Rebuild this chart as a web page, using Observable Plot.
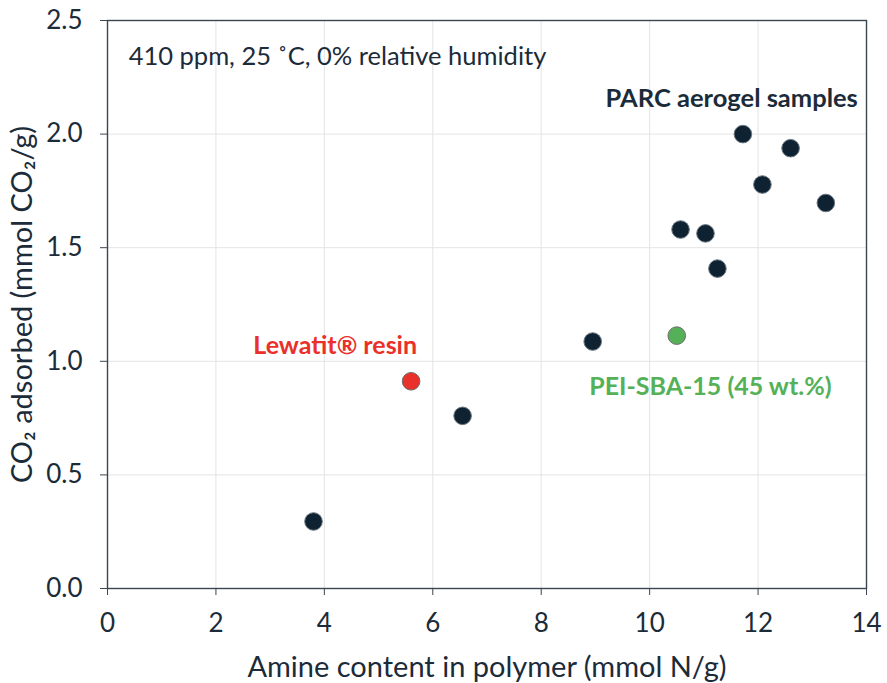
<!DOCTYPE html>
<html>
<head>
<meta charset="utf-8">
<script src="https://cdn.jsdelivr.net/npm/d3@7"></script>
<script src="https://cdn.jsdelivr.net/npm/@observablehq/plot@0.6"></script>
<style>
  html, body { margin: 0; padding: 0; background: #fff; }
  #chart svg { display: block; }
</style>
</head>
<body>
<div id="chart"></div>
<script>
// PARC aerogel samples
const aerogelAmine = [3.8, 6.55, 8.95, 10.57, 11.03, 11.25, 11.72, 12.08, 12.6, 13.25];
const aerogelCO2   = [0.295, 0.76, 1.087, 1.58, 1.563, 1.408, 2.0, 1.778, 1.938, 1.697];
// Reference sorbents
const lewatitAmine = [5.6];
const lewatitCO2   = [0.912];
const peiAmine = [10.5];
const peiCO2   = [1.113];

const xTicks = [0, 2, 4, 6, 8, 10, 12, 14];
const yTicks = [0, 0.5, 1.0, 1.5, 2.0, 2.5];

const toRows = (xs, ys) => xs.map((x, i) => ({x, y: ys[i]}));
const aerogel = toRows(aerogelAmine, aerogelCO2);
const lewatit = toRows(lewatitAmine, lewatitCO2);
const pei = toRows(peiAmine, peiCO2);

const dark = "#0e2232";
const textColor = "#1c2b39";
const red = "#e9302a";
const green = "#55b157";
const font = "Lato, 'Open Sans', sans-serif";

const noteLabel = [{x: 0.39, y: 2.34, text: "410 ppm, 25 ˚C, 0% relative humidity"}];
const parcLabel = [{x: 13.84, y: 2.155, text: "PARC aerogel samples"}];
const lewatitLabel = [{x: 4.2, y: 1.066, text: "Lewatit® resin"}];
const peiLabel = [{x: 11.12, y: 0.885, text: "PEI-SBA-15 (45 wt.%)"}];

const chart = Plot.plot({
  width: 887,
  height: 683,
  marginLeft: 107,
  marginRight: 21,
  marginTop: 20,
  marginBottom: 95,
  style: {fontFamily: font, color: textColor, background: "#fff"},
  x: {domain: [0, 14]},
  y: {domain: [0, 2.5]},
  marks: [
    Plot.ruleX(xTicks, {stroke: "#e4e4e4", strokeWidth: 1}),
    Plot.ruleY(yTicks, {stroke: "#e4e4e4", strokeWidth: 1}),
    Plot.frame({stroke: "#3a4651", strokeWidth: 1.4}),
    Plot.axisX({ticks: xTicks, tickSize: 7, tickPadding: 18, fontSize: 26, stroke: "#3a4651",
      tickFormat: d3.format("d"), label: "Amine content in polymer (mmol N/g)", labelAnchor: "center",
      labelArrow: false, labelOffset: 88, color: textColor}),
    Plot.axisY({ticks: yTicks, tickSize: 7, tickPadding: 18, fontSize: 26, stroke: "#3a4651",
      tickFormat: d3.format(".1f"), label: "CO₂ adsorbed (mmol CO₂/g)", labelAnchor: "center",
      labelArrow: false, labelOffset: 96, color: textColor}),
    Plot.dot(aerogel, {x: "x", y: "y", r: 8.8, fill: dark, stroke: "#6b7780", strokeWidth: 1}),
    Plot.dot(lewatit, {x: "x", y: "y", r: 8.8, fill: red, stroke: "#6b6b6b", strokeWidth: 1}),
    Plot.dot(pei, {x: "x", y: "y", r: 8.8, fill: green, stroke: "#6b6b6b", strokeWidth: 1}),
    Plot.text(noteLabel, {x: "x", y: "y", text: "text", fill: textColor, textAnchor: "start", fontSize: 25.5}),
    Plot.text(parcLabel, {x: "x", y: "y", text: "text", fill: textColor, fontWeight: "bold", textAnchor: "end", fontSize: 25.5}),
    Plot.text(lewatitLabel, {x: "x", y: "y", text: "text", fill: red, fontWeight: "bold", textAnchor: "middle", fontSize: 25}),
    Plot.text(peiLabel, {x: "x", y: "y", text: "text", fill: green, fontWeight: "bold", textAnchor: "middle", fontSize: 25})
  ]
});
document.getElementById("chart").appendChild(chart);
// enlarge axis titles
chart.querySelectorAll("g[aria-label='x-axis label'] text, g[aria-label='y-axis label'] text").forEach(t => {
  t.style.fontSize = "29px";
});
</script>
</body>
</html>
